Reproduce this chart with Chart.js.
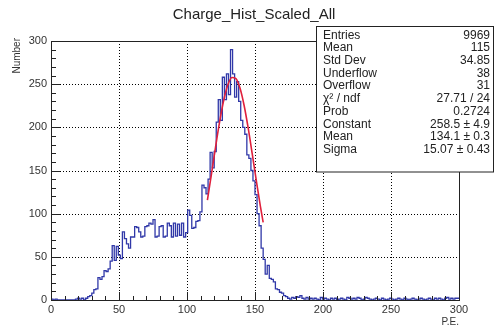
<!DOCTYPE html>
<html><head><meta charset="utf-8">
<script src="https://cdn.jsdelivr.net/npm/chart.js@4/dist/chart.umd.min.js"></script>
<style>html,body{margin:0;padding:0;background:#fff;overflow:hidden}#wrap{width:495px;height:327px;position:relative}</style>
</head><body><div id="wrap"><canvas id="c" width="495" height="327"></canvas></div>
<script>
const chartTitle = 'Charge_Hist_Scaled_All';
const xTitle = 'P.E.';
const yTitle = 'Number';
const xMin = 0, xMax = 300, binWidth = 1.5;
const yMin = 0, yMax = 300;
const counts = [
  0,1,0,1,0,0,0,0,0,0,
  0,0,0,1,2,1,2,0,2,4,
  5,8,12,13,26,24,27,34,33,36,
  45,63,46,62,52,48,79,71,65,60,
  73,73,85,84,79,73,74,85,86,89,
  88,93,73,74,85,86,73,74,89,86,
  73,89,74,88,75,89,73,78,104,98,
  83,84,91,92,102,133,130,123,140,171,
  153,172,206,232,208,258,232,262,238,290,
  262,235,253,230,208,200,192,168,164,150,
  138,122,100,86,60,47,30,40,25,24,
  21,13,12,9,8,5,4,2,1,3,
  2,4,3,5,2,1,3,1,2,1,
  2,1,0,3,1,2,1,0,2,1,
  2,0,1,2,1,0,3,2,1,2,
  1,3,2,0,1,3,2,1,0,1,
  2,1,0,2,1,0,1,2,1,0,
  1,2,1,0,2,1,0,1,2,1,
  0,1,2,1,0,1,2,1,0,2,
  1,2,1,0,2,3,1,2,1,2
];
const fitX = [115,118,121,124,127,130,133,136,139,142,145,148,151,154,156];
const fitY = [115.8,146.1,177.2,206.5,231.4,249.1,257.8,256.5,245.2,225.3,199.0,169.0,137.9,108.1,90.0];
const xTickStep = 50, xMinorStep = 10;
const yTickStep = 50, yMinorStep = 10;
const statLabels = ['Entries','Mean','Std Dev','Underflow','Overflow','\u03C7\u00B2 / ndf','Prob','Constant','Mean','Sigma'];
const statValues = ['9969','115','34.85','38','31','27.71 / 24','0.2724','258.5 \u00B1 4.9','134.1 \u00B1 0.3','15.07 \u00B1 0.43'];

const histPts = counts.map((c,i)=>({x: xMin + i*binWidth, y: c}));
histPts.push({x: xMax, y: counts[counts.length-1]});
const fitPts = fitX.map((x,i)=>({x, y: fitY[i]}));

const FONT = '"Liberation Sans", Arial, sans-serif';

const rootPlugin = {
  id: 'rootStyle',
  beforeDatasetsDraw(chart){
    const {ctx, chartArea:a, scales:{x,y}} = chart;
    ctx.save();
    ctx.strokeStyle = '#000'; ctx.lineWidth = 1; ctx.setLineDash([1,2]);
    for(let v=xMin+xTickStep; v<xMax; v+=xTickStep){
      const px = Math.round(x.getPixelForValue(v))+0.5;
      ctx.beginPath(); ctx.moveTo(px,a.top); ctx.lineTo(px,a.bottom); ctx.stroke();
    }
    for(let v=yMin+yTickStep; v<yMax; v+=yTickStep){
      const py = Math.round(y.getPixelForValue(v))+0.5;
      ctx.beginPath(); ctx.moveTo(a.left,py); ctx.lineTo(a.right,py); ctx.stroke();
    }
    ctx.restore();
  },
  afterDatasetsDraw(chart){
    const {ctx, chartArea:a, scales:{x,y}} = chart;
    ctx.save();
    ctx.setLineDash([]);
    ctx.strokeStyle = '#222'; ctx.lineWidth = 1;
    ctx.strokeRect(Math.round(a.left)+0.5, Math.round(a.top)+0.5, Math.round(a.right-a.left), Math.round(a.bottom-a.top));
    ctx.beginPath();
    for(let v=xMin; v<=xMax+1e-9; v+=xMinorStep){
      const px = Math.round(x.getPixelForValue(v))+0.5;
      const len = (Math.abs(v % xTickStep) < 1e-9) ? 8 : 4;
      ctx.moveTo(px, a.bottom); ctx.lineTo(px, a.bottom-len);
    }
    for(let v=yMin; v<=yMax+1e-9; v+=yMinorStep){
      const py = Math.round(y.getPixelForValue(v))+0.5;
      const len = (Math.abs(v % yTickStep) < 1e-9) ? 9 : 5;
      ctx.moveTo(a.left, py); ctx.lineTo(a.left+len, py);
    }
    ctx.stroke();
    const bx=316.5, by=26.5, bw=177, bh=145.5;
    ctx.fillStyle='#fff'; ctx.fillRect(bx,by,bw,bh);
    ctx.strokeStyle='#222'; ctx.strokeRect(bx,by,bw,bh);
    ctx.font = '12px '+FONT; ctx.fillStyle='#222'; ctx.textBaseline='middle';
    statLabels.forEach((l,i)=>{
      const ty = 35.5 + i*12.67;
      ctx.textAlign='left'; ctx.fillText(l, 323, ty);
      ctx.textAlign='right'; ctx.fillText(statValues[i], 490, ty);
    });
    ctx.font = '15px '+FONT; ctx.textAlign='center'; ctx.textBaseline='middle';
    ctx.fillText(chartTitle, 254, 15);
    ctx.font = '10px '+FONT; ctx.fillStyle='#333';
    ctx.textAlign='right'; ctx.textBaseline='alphabetic';
    ctx.fillText(xTitle, 459, 325);
    ctx.save(); ctx.translate(20, 38); ctx.rotate(-Math.PI/2);
    ctx.textAlign='right'; ctx.textBaseline='alphabetic';
    ctx.fillText(yTitle, 0, 0);
    ctx.restore();
    ctx.restore();
  }
};

new Chart(document.getElementById('c'), {
  type: 'line',
  data: { datasets: [
    { label:'fit', data: fitPts, borderColor:'#e0203c', borderWidth:1.6, pointRadius:0, cubicInterpolationMode:'monotone', fill:false, order:0 },
    { label:'hist', data: histPts, stepped:'after', borderColor:'#3038a8', borderWidth:1.3, pointRadius:0, fill:false, order:1 }
  ]},
  options: {
    responsive:false, animation:false, devicePixelRatio:1,
    layout:{ padding:{ top:41, right:36, left:0, bottom:0 } },
    plugins:{ legend:{display:false}, tooltip:{enabled:false}, title:{display:false} },
    scales:{
      x:{ type:'linear', min:xMin, max:xMax,
          afterFit(s){ s.height = 27; },
          afterBuildTicks(s){ s.ticks = []; for(let v=xMin; v<=xMax; v+=xTickStep) s.ticks.push({value:v}); },
          ticks:{ font:{size:11, family:FONT}, color:'#333', maxRotation:0, padding:3, autoSkip:false },
          grid:{ display:false, drawTicks:false }, border:{display:false} },
      y:{ type:'linear', min:yMin, max:yMax,
          afterFit(s){ s.width = 51; },
          afterBuildTicks(s){ s.ticks = []; for(let v=yMin; v<=yMax; v+=yTickStep) s.ticks.push({value:v}); },
          ticks:{ font:{size:11, family:FONT}, color:'#333', padding:4, autoSkip:false },
          grid:{ display:false, drawTicks:false }, border:{display:false} }
    }
  },
  plugins:[rootPlugin]
});
</script></body></html>
